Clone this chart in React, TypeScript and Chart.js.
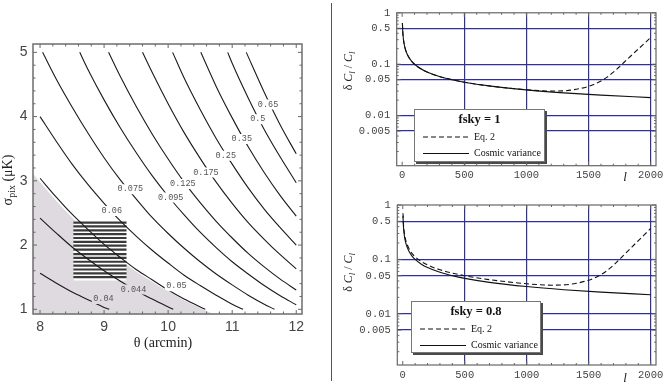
import React, { useEffect, useRef } from 'react';
import { Chart, registerables } from 'chart.js';

Chart.register(...registerables);

type P = [number, number];

// ---------------- Left panel: contour plot ----------------
const thetaTicks = [8, 9, 10, 11, 12];
const sigmaTicks = [1, 2, 3, 4, 5];
const thetaMinorTicks = [8.2, 8.4, 8.6, 8.8, 9.2, 9.4, 9.6, 9.8, 10.2, 10.4, 10.6, 10.8, 11.2, 11.4, 11.6, 11.8];
const sigmaMinorTicks = [1.2, 1.4, 1.6, 1.8, 2.2, 2.4, 2.6, 2.8, 3.2, 3.4, 3.6, 3.8, 4.2, 4.4, 4.6, 4.8];

const contourLevels = ['0.04', '0.044', '0.05', '0.06', '0.075', '0.095', '0.125', '0.175', '0.25', '0.35', '0.5', '0.65'];
const contour0040: P[] = [[8.0, 1.56], [8.25, 1.41], [8.5, 1.27], [8.75, 1.15], [9.0, 1.03], [9.08, 1.0]];
const contour0044: P[] = [[8.0, 2.42], [8.25, 2.19], [8.5, 1.97], [8.75, 1.78], [9.0, 1.6], [9.25, 1.44], [9.5, 1.29], [9.75, 1.16], [10.08, 1.0]];
const contour0050: P[] = [[8.0, 3.04], [8.25, 2.75], [8.5, 2.48], [8.75, 2.24], [9.0, 2.01], [9.25, 1.81], [9.5, 1.62], [9.75, 1.46], [10.0, 1.3], [10.25, 1.16], [10.58, 1.0]];
const contour0060: P[] = [[8.0, 4.0], [8.25, 3.62], [8.5, 3.26], [8.75, 2.94], [9.0, 2.65], [9.25, 2.38], [9.5, 2.14], [9.75, 1.92], [10.0, 1.72], [10.25, 1.53], [10.5, 1.37], [10.75, 1.22], [11.0, 1.08], [11.17, 1.0]];
const contour0075: P[] = [[8.04, 5.0], [8.25, 4.59], [8.5, 4.15], [8.75, 3.74], [9.0, 3.36], [9.25, 3.02], [9.5, 2.72], [9.75, 2.43], [10.0, 2.18], [10.25, 1.95], [10.5, 1.74], [10.75, 1.55], [11.0, 1.38], [11.25, 1.22], [11.5, 1.08], [11.66, 1.0]];
const contour0095: P[] = [[8.62, 5.0], [8.75, 4.73], [9.0, 4.26], [9.25, 3.83], [9.5, 3.44], [9.75, 3.08], [10.0, 2.76], [10.25, 2.47], [10.5, 2.2], [10.75, 1.96], [11.0, 1.74], [11.25, 1.55], [11.5, 1.37], [11.75, 1.21], [12.0, 1.07]];
const contour0125: P[] = [[9.07, 5.0], [9.25, 4.63], [9.5, 4.16], [9.75, 3.73], [10.0, 3.34], [10.25, 2.98], [10.5, 2.66], [10.75, 2.37], [11.0, 2.11], [11.25, 1.87], [11.5, 1.66], [11.75, 1.47], [12.0, 1.3]];
const contour0175: P[] = [[9.6, 5.0], [9.75, 4.69], [10.0, 4.2], [10.25, 3.75], [10.5, 3.35], [10.75, 2.98], [11.0, 2.65], [11.25, 2.35], [11.5, 2.09], [11.75, 1.85], [12.0, 1.63]];
const contour0250: P[] = [[10.07, 5.0], [10.25, 4.6], [10.5, 4.11], [10.75, 3.66], [11.0, 3.26], [11.25, 2.89], [11.5, 2.56], [11.75, 2.27], [12.0, 2.0]];
const contour0350: P[] = [[10.51, 5.0], [10.75, 4.47], [11.0, 3.98], [11.25, 3.53], [11.5, 3.13], [11.75, 2.77], [12.0, 2.45]];
const contour0500: P[] = [[10.93, 5.0], [11.0, 4.83], [11.25, 4.29], [11.5, 3.8], [11.75, 3.37], [12.0, 2.97]];
const contour0650: P[] = [[11.22, 5.0], [11.5, 4.38], [11.75, 3.87], [12.0, 3.42]];
const contours = [contour0040, contour0044, contour0050, contour0060, contour0075, contour0095, contour0125, contour0175, contour0250, contour0350, contour0500, contour0650];

const labelTheta = [8.99, 9.46, 10.13, 9.12, 9.41, 10.04, 10.23, 10.59, 10.9, 11.15, 11.4, 11.56];
const labelSigma = [1.16, 1.31, 1.36, 2.53, 2.87, 2.74, 2.95, 3.13, 3.39, 3.65, 3.96, 4.19];

const shadeBoundary: P[] = [[7.89, 3.11], [8.0, 2.98], [8.25, 2.69], [8.5, 2.43], [8.75, 2.19], [9.0, 1.97], [9.25, 1.77], [9.5, 1.59], [9.75, 1.43], [10.0, 1.28], [10.25, 1.14], [10.5, 1.02], [10.7, 0.927]];
const boxTheta = [8.52, 9.35];
const boxSigma = [1.45, 2.375];
const stripeSigma = [2.35, 2.29, 2.23, 2.17, 2.11, 2.05, 1.99, 1.93, 1.86, 1.8, 1.74, 1.68, 1.62, 1.56, 1.5];

// ---------------- Right panels: dC/C vs l ----------------
const ellTicks = [0, 500, 1000, 1500, 2000];
const ellMinorTicks = [100, 200, 300, 400, 600, 700, 800, 900, 1100, 1200, 1300, 1400, 1600, 1700, 1800, 1900];
const ratioTicks = [1, 0.5, 0.1, 0.05, 0.01, 0.005];
const ratioTickLabels = ['1', '0.5', '0.1', '0.05', '0.01', '0.005'];
const ratioMinorTicks = [0.002, 0.003, 0.004, 0.006, 0.007, 0.008, 0.009, 0.02, 0.03, 0.04, 0.06, 0.07, 0.08, 0.09, 0.2, 0.3, 0.4, 0.6, 0.7, 0.8, 0.9];

const ellCV = [2, 3, 5, 7, 10, 15, 20, 30, 50, 75, 100, 150, 200, 300, 400, 500, 700, 1000, 1300, 1600, 2000];
const cosmicVariance = [0.632, 0.535, 0.426, 0.365, 0.309, 0.254, 0.221, 0.181, 0.1407, 0.1151, 0.0998, 0.0815, 0.0706, 0.0577, 0.05, 0.0447, 0.0378, 0.0316, 0.0277, 0.025, 0.0224];

const ellEq2 = [2, 5, 10, 20, 50, 100, 200, 300, 500, 700, 1000, 1100, 1200, 1300, 1400, 1500, 1550, 1600, 1650, 1700, 1750, 1800, 1850, 1900, 1950, 2000];
const eq2Fsky1 = [0.632, 0.426, 0.309, 0.221, 0.1407, 0.0998, 0.0706, 0.0577, 0.0447, 0.0378, 0.0318, 0.0306, 0.03, 0.0303, 0.0325, 0.037, 0.041, 0.047, 0.056, 0.07, 0.09, 0.117, 0.152, 0.197, 0.255, 0.33];
const eq2Fsky08 = [0.707, 0.476, 0.345, 0.247, 0.158, 0.1116, 0.079, 0.0645, 0.05, 0.0423, 0.0356, 0.0342, 0.0335, 0.0339, 0.0363, 0.0414, 0.0458, 0.0525, 0.0626, 0.078, 0.1006, 0.131, 0.17, 0.22, 0.285, 0.37];

const seriesNames = ['Eq. 2', 'Cosmic variance'];

// ---------------- plugins ----------------
const frameTicks = {
  id: 'frameTicks',
  afterDraw(chart: any, _a: any, o: any) {
    const { ctx, chartArea: a, scales } = chart;
    const xs = scales.x;
    const ys = scales.y;
    ctx.save();
    ctx.strokeStyle = o.tickColor;
    ctx.lineWidth = 1;
    ctx.beginPath();
    const xt = (vals: number[], len: number) =>
      vals.forEach((v) => {
        if (v < xs.min || v > xs.max) return;
        const p = xs.getPixelForValue(v);
        ctx.moveTo(p, a.bottom);
        ctx.lineTo(p, a.bottom - len);
        ctx.moveTo(p, a.top);
        ctx.lineTo(p, a.top + len);
      });
    const yt = (vals: number[], len: number) =>
      vals.forEach((v) => {
        if (v < ys.min || v > ys.max) return;
        const p = ys.getPixelForValue(v);
        ctx.moveTo(a.left, p);
        ctx.lineTo(a.left + len, p);
        ctx.moveTo(a.right, p);
        ctx.lineTo(a.right - len, p);
      });
    xt(o.xMajor, o.majorLen);
    xt(o.xMinor, o.minorLen);
    yt(o.yMajor, o.majorLen);
    yt(o.yMinor, o.minorLen);
    ctx.stroke();
    ctx.strokeStyle = o.frameColor;
    ctx.lineWidth = o.frameWidth;
    ctx.strokeRect(a.left, a.top, a.right - a.left, a.bottom - a.top);
    ctx.restore();
  },
};

const LABEL_FONT = '8.5px "Liberation Mono"';

const contourLabels = {
  id: 'contourLabels',
  beforeDatasetDraw(chart: any, args: any) {
    const ds = chart.data.datasets[args.index];
    if (!ds.isContour) return;
    const { ctx, chartArea: a, scales } = chart;
    ctx.save();
    ctx.beginPath();
    ctx.rect(a.left - 5, a.top - 5, a.right - a.left + 10, a.bottom - a.top + 10);
    ctx.font = LABEL_FONT;
    contourLevels.forEach((t, i) => {
      const px = scales.x.getPixelForValue(labelTheta[i]);
      const py = scales.y.getPixelForValue(labelSigma[i]);
      const w = ctx.measureText(t).width + 3;
      ctx.rect(px - w / 2, py - 5, w, 10);
    });
    ctx.clip('evenodd');
  },
  afterDatasetDraw(chart: any, args: any) {
    const ds = chart.data.datasets[args.index];
    if (!ds.isContour) return;
    chart.ctx.restore();
  },
  afterDatasetsDraw(chart: any) {
    const { ctx, scales } = chart;
    ctx.save();
    ctx.font = LABEL_FONT;
    ctx.fillStyle = '#555';
    ctx.textAlign = 'center';
    ctx.textBaseline = 'middle';
    contourLevels.forEach((t, i) => {
      ctx.fillText(t, scales.x.getPixelForValue(labelTheta[i]), scales.y.getPixelForValue(labelSigma[i]));
    });
    ctx.restore();
  },
};

const leftTitles = {
  id: 'leftTitles',
  afterDraw(chart: any) {
    const ctx = chart.ctx;
    ctx.save();
    ctx.fillStyle = '#222';
    ctx.font = '14px "Liberation Serif"';
    ctx.textAlign = 'center';
    ctx.textBaseline = 'alphabetic';
    ctx.fillText('θ (arcmin)', 163, 347);
    ctx.translate(12, 180);
    ctx.rotate(-Math.PI / 2);
    const big = '14px "Liberation Serif"';
    const small = '10px "Liberation Serif"';
    ctx.font = big;
    const w1 = ctx.measureText('σ').width;
    const w3 = ctx.measureText(' (μK)').width;
    ctx.font = small;
    const w2 = ctx.measureText('pix').width;
    const x0 = -(w1 + w2 + w3) / 2;
    ctx.textAlign = 'left';
    ctx.font = big;
    ctx.fillText('σ', x0, 0);
    ctx.font = small;
    ctx.fillText('pix', x0 + w1, 3);
    ctx.font = big;
    ctx.fillText(' (μK)', x0 + w1 + w2, 0);
    ctx.restore();
  },
};

const rightDecor = {
  id: 'rightDecor',
  afterDatasetsDraw(chart: any, _a: any, o: any) {
    const { ctx, chartArea: a } = chart;
    const L = o.legend;
    const bx = Math.round(a.left + L.dx);
    const by = Math.round(a.top + L.dy);
    ctx.save();
    ctx.fillStyle = '#4a4a4a';
    ctx.fillRect(bx + 2, by + 2, L.w, L.h);
    ctx.fillStyle = '#fff';
    ctx.fillRect(bx, by, L.w, L.h);
    ctx.strokeStyle = '#777';
    ctx.lineWidth = 1;
    ctx.strokeRect(bx + 0.5, by + 0.5, L.w - 1, L.h - 1);
    ctx.fillStyle = '#111';
    ctx.font = 'bold 12.5px "Liberation Serif"';
    ctx.textAlign = 'center';
    ctx.textBaseline = 'middle';
    ctx.fillText(o.title, bx + L.w / 2, by + 11);
    ctx.strokeStyle = '#111';
    ctx.lineWidth = 1.1;
    ctx.setLineDash([5, 3]);
    ctx.beginPath();
    ctx.moveTo(bx + 9, by + 28);
    ctx.lineTo(bx + 55, by + 28);
    ctx.stroke();
    ctx.setLineDash([]);
    ctx.beginPath();
    ctx.moveTo(bx + 9, by + 44.5);
    ctx.lineTo(bx + 55, by + 44.5);
    ctx.stroke();
    ctx.font = '10px "Liberation Serif"';
    ctx.textAlign = 'left';
    ctx.fillText(chart.data.datasets[0].label, bx + 60, by + 28);
    ctx.fillText(chart.data.datasets[1].label, bx + 60, by + 44.5);
    ctx.restore();
  },
  afterDraw(chart: any, _a: any, o: any) {
    const ctx = chart.ctx;
    ctx.save();
    ctx.fillStyle = '#222';
    // l axis label
    ctx.font = 'italic 13px "Liberation Serif"';
    ctx.textAlign = 'center';
    ctx.textBaseline = 'alphabetic';
    ctx.fillText('l', o.ellX, o.ellY);
    // y title
    ctx.translate(o.yTitleX, o.yTitleY);
    ctx.rotate(-Math.PI / 2);
    const parts = [
      { t: 'δ ', f: '12px "Liberation Serif"', dy: 0 },
      { t: 'C', f: 'italic 12px "Liberation Serif"', dy: 0 },
      { t: 'l', f: 'italic 8.5px "Liberation Serif"', dy: 2.5 },
      { t: ' / ', f: '12px "Liberation Serif"', dy: 0 },
      { t: 'C', f: 'italic 12px "Liberation Serif"', dy: 0 },
      { t: 'l', f: 'italic 8.5px "Liberation Serif"', dy: 2.5 },
    ];
    let total = 0;
    const ws = parts.map((p) => {
      ctx.font = p.f;
      const w = ctx.measureText(p.t).width;
      total += w;
      return w;
    });
    let x = -total / 2;
    ctx.textAlign = 'left';
    parts.forEach((p, i) => {
      ctx.font = p.f;
      ctx.fillText(p.t, x, p.dy);
      x += ws[i];
    });
    ctx.restore();
  },
};

// ---------------- chart builders ----------------
function makeLeft(canvas: HTMLCanvasElement) {
  const datasets: any[] = [];
  datasets.push({
    data: shadeBoundary.map(([x, y]) => ({ x, y })),
    showLine: true,
    fill: 'start',
    backgroundColor: '#dedadf',
    borderColor: 'rgba(0,0,0,0)',
    borderWidth: 0,
    pointRadius: 0,
    cubicInterpolationMode: 'monotone',
    order: 100,
  });
  datasets.push({
    data: boxTheta.map((x) => ({ x, y: boxSigma[1] })),
    showLine: true,
    fill: { value: boxSigma[0] },
    backgroundColor: '#ffffff',
    borderColor: 'rgba(0,0,0,0)',
    borderWidth: 0,
    pointRadius: 0,
    order: 90,
  });
  datasets.push({
    data: stripeSigma.flatMap((y) => [
      { x: boxTheta[0], y },
      { x: boxTheta[1], y },
      { x: boxTheta[1], y: null },
    ]),
    showLine: true,
    spanGaps: false,
    borderColor: '#3a3a3a',
    borderWidth: 2.2,
    pointRadius: 0,
    tension: 0,
    order: 80,
  });
  contours.forEach((c) => {
    datasets.push({
      data: c.map(([x, y]) => ({ x, y })),
      showLine: true,
      borderColor: '#1b1b1b',
      borderWidth: 1.1,
      pointRadius: 0,
      cubicInterpolationMode: 'monotone',
      isContour: true,
      order: 10,
    });
  });

  return new Chart(canvas, {
    type: 'scatter',
    data: { datasets },
    plugins: [contourLabels, frameTicks, leftTitles],
    options: {
      animation: false,
      responsive: false,
      devicePixelRatio: 1,
      events: [],
      layout: { padding: { left: 0, top: 44, right: 30, bottom: 0 } },
      plugins: {
        legend: { display: false },
        tooltip: { enabled: false },
        frameTicks: {
          xMajor: thetaTicks, xMinor: thetaMinorTicks, yMajor: sigmaTicks, yMinor: sigmaMinorTicks,
          majorLen: 4, minorLen: 2.5, tickColor: '#666', frameColor: '#6e6e6e', frameWidth: 1.5,
        },
      } as any,
      scales: {
        x: {
          type: 'linear',
          min: 7.89,
          max: 12.09,
          afterBuildTicks: (s: any) => { s.ticks = thetaTicks.map((v) => ({ value: v })); },
          afterFit: (s: any) => { s.height = 70; },
          ticks: {
            autoSkip: false, maxRotation: 0, padding: 5, color: '#444',
            font: { family: 'Liberation Sans', size: 14 },
            callback: (v: any) => String(v),
          },
          grid: { display: false, drawTicks: false },
          border: { display: false },
        },
        y: {
          type: 'linear',
          min: 0.927,
          max: 5.13,
          afterBuildTicks: (s: any) => { s.ticks = sigmaTicks.map((v) => ({ value: v })); },
          afterFit: (s: any) => { s.width = 33; },
          ticks: {
            autoSkip: false, padding: 5.5, color: '#444',
            font: { family: 'Liberation Sans', size: 14 },
            callback: (v: any) => String(v),
          },
          grid: { display: false, drawTicks: false },
          border: { display: false },
        },
      } as any,
    },
  } as any);
}

function makeRight(canvas: HTMLCanvasElement, cfg: any) {
  const gridBlue = '#30309a';
  return new Chart(canvas, {
    type: 'scatter',
    data: {
      datasets: [
        {
          label: seriesNames[0],
          data: ellEq2.map((l, i) => ({ x: l, y: cfg.eq2[i] })),
          showLine: true,
          borderColor: '#111',
          borderWidth: 1.1,
          borderDash: [5, 3],
          pointRadius: 0,
          cubicInterpolationMode: 'monotone',
        },
        {
          label: seriesNames[1],
          data: ellCV.map((l, i) => ({ x: l, y: cosmicVariance[i] })),
          showLine: true,
          borderColor: '#111',
          borderWidth: 1.1,
          pointRadius: 0,
          cubicInterpolationMode: 'monotone',
        },
      ],
    },
    plugins: [rightDecor, frameTicks],
    options: {
      animation: false,
      responsive: false,
      devicePixelRatio: 1,
      events: [],
      layout: { padding: { left: 0, top: cfg.padTop, right: cfg.padRight, bottom: 0 } },
      plugins: {
        legend: { display: false },
        tooltip: { enabled: false },
        frameTicks: {
          xMajor: ellTicks, xMinor: ellMinorTicks, yMajor: ratioTicks, yMinor: ratioMinorTicks,
          majorLen: 4, minorLen: 2, tickColor: '#666', frameColor: '#666', frameWidth: 1.2,
        },
        rightDecor: {
          title: cfg.title, legend: cfg.legend, yTitleX: cfg.yTitleX, yTitleY: cfg.yTitleY, ellX: cfg.ellX, ellY: cfg.ellY,
        },
      } as any,
      scales: {
        x: {
          type: 'linear',
          min: -44,
          max: 2043,
          afterBuildTicks: (s: any) => { s.ticks = ellTicks.map((v) => ({ value: v })); },
          afterFit: (s: any) => { s.height = cfg.xHeight; },
          ticks: {
            autoSkip: false, maxRotation: 0, padding: 3.5, color: '#444',
            font: { family: 'Liberation Mono', size: 10.5 },
            callback: (v: any) => String(v),
          },
          grid: {
            drawTicks: false,
            lineWidth: 1.2,
            color: (c: any) => (c.tick && c.tick.value === 0 ? 'rgba(0,0,0,0)' : gridBlue),
          },
          border: { display: false },
        },
        y: {
          type: 'logarithmic',
          min: cfg.yMin,
          max: 1,
          afterBuildTicks: (s: any) => { s.ticks = ratioTicks.map((v) => ({ value: v })); },
          afterFit: (s: any) => { s.width = cfg.yWidth; },
          ticks: {
            autoSkip: false, padding: 6.5, color: '#444',
            font: { family: 'Liberation Mono', size: 10.5 },
            major: { enabled: false },
            callback: (_v: any, i: number) => ratioTickLabels[i],
          },
          grid: {
            drawTicks: false,
            lineWidth: 1.2,
            color: (c: any) => (c.tick && c.tick.value === 1 ? 'rgba(0,0,0,0)' : gridBlue),
          },
          border: { display: false },
        },
      } as any,
    },
  } as any);
}

export default function App() {
  const leftRef = useRef<HTMLCanvasElement>(null);
  const topRef = useRef<HTMLCanvasElement>(null);
  const botRef = useRef<HTMLCanvasElement>(null);

  useEffect(() => {
    const charts = [
      makeLeft(leftRef.current as HTMLCanvasElement),
      makeRight(topRef.current as HTMLCanvasElement, {
        eq2: eq2Fsky1, title: 'fsky = 1', padTop: 6, padRight: 14, yWidth: 60.7, xHeight: 24.3, yMin: 0.00106,
        legend: { dx: 17.3, dy: 95.7, w: 131, h: 53 }, yTitleX: 16, yTitleY: 71, ellX: 289, ellY: 181,
      }),
      makeRight(botRef.current as HTMLCanvasElement, {
        eq2: eq2Fsky08, title: 'fsky = 0.8', padTop: 15, padRight: 14, yWidth: 61.3, xHeight: 19, yMin: 0.00114,
        legend: { dx: 13.7, dy: 95.7, w: 130, h: 52 }, yTitleX: 16, yTitleY: 82.5, ellX: 289, ellY: 192,
      }),
    ];
    return () => charts.forEach((c) => c.destroy());
  }, []);

  return (
    <div style={{ position: 'fixed', left: 0, top: 0, width: 670, height: 384, background: '#fff', overflow: 'hidden' }}>
      <canvas ref={leftRef} width={332} height={384} style={{ position: 'absolute', left: 0, top: 0, width: 332, height: 384 }} />
      <div style={{ position: 'absolute', left: 331, top: 3, width: 1, height: 378, background: '#555' }} />
      <canvas ref={topRef} width={334} height={190} style={{ position: 'absolute', left: 336, top: 0, width: 334, height: 190 }} />
      <canvas ref={botRef} width={334} height={194} style={{ position: 'absolute', left: 336, top: 190, width: 334, height: 194 }} />
    </div>
  );
}
